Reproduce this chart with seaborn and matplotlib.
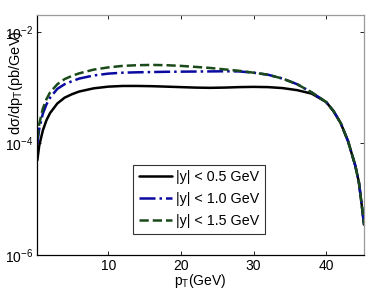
import numpy as np
import pandas as pd
import matplotlib
matplotlib.use("Agg")
import matplotlib.pyplot as plt
import seaborn as sns

pt = [0.25, 0.5, 1, 1.5, 2, 3, 4, 5, 6, 8, 10, 12, 14, 16, 18, 20, 22, 24, 26, 28,
      30, 32, 34, 36, 38, 40, 41, 42, 43, 44, 44.5, 45, 45.2]
y05 = [5e-5, 9e-5, 1.7e-4, 2.6e-4, 3.5e-4, 5.2e-4, 6.6e-4, 7.6e-4, 8.5e-4, 9.7e-4,
       1.04e-3, 1.07e-3, 1.07e-3, 1.06e-3, 1.04e-3, 1.02e-3, 1.0e-3, 0.99e-3, 1.0e-3,
       1.02e-3, 1.03e-3, 1.02e-3, 0.98e-3, 0.9e-3, 0.78e-3, 5.5e-4, 3.8e-4, 2.3e-4,
       1.1e-4, 4e-5, 2e-5, 6e-6, 3.5e-6]
y10 = [1e-4, 1.8e-4, 3.4e-4, 5e-4, 6.6e-4, 9.5e-4, 1.15e-3, 1.3e-3, 1.45e-3, 1.65e-3,
       1.78e-3, 1.85e-3, 1.88e-3, 1.9e-3, 1.92e-3, 1.93e-3, 1.94e-3, 1.95e-3, 1.96e-3,
       1.95e-3, 1.85e-3, 1.7e-3, 1.45e-3, 1.15e-3, 8.2e-4, 5.5e-4, 3.8e-4, 2.3e-4,
       1.1e-4, 4e-5, 2e-5, 6e-6, 3.5e-6]
y15 = [1.2e-4, 2.2e-4, 4.2e-4, 6.2e-4, 8.2e-4, 1.15e-3, 1.42e-3, 1.62e-3, 1.8e-3, 2.1e-3,
       2.3e-3, 2.45e-3, 2.52e-3, 2.55e-3, 2.52e-3, 2.45e-3, 2.35e-3, 2.25e-3, 2.12e-3,
       2.0e-3, 1.85e-3, 1.7e-3, 1.45e-3, 1.15e-3, 8.2e-4, 5.5e-4, 3.8e-4, 2.3e-4,
       1.1e-4, 4e-5, 2e-5, 6e-6, 3.5e-6]
labels = ["|y| < 0.5 GeV", "|y| < 1.0 GeV", "|y| < 1.5 GeV"]
xticks = [10, 20, 30, 40]

sns.set_style("ticks", {"text.color": "black", "axes.labelcolor": "black",
                        "xtick.color": "black", "ytick.color": "black",
                        "axes.edgecolor": "black"})
plt.rcParams['font.family'] = ['Liberation Sans', 'DejaVu Sans']

fig = plt.figure(figsize=(3.74, 2.94), dpi=100)
ax = fig.add_axes([37/374, 1-255/294, 327/374, 240/294])

df = pd.DataFrame({"pt": pt * 3, "val": y05 + y10 + y15,
                   "series": [labels[0]] * len(pt) + [labels[1]] * len(pt) + [labels[2]] * len(pt)})
styles = [("black", "-"), ("#0a0aa0", "-."), ("#1a4a1a", "--")]
for (c, ls), lab in zip(styles, labels):
    sub = df[df.series == lab]
    sns.lineplot(data=sub, x="pt", y="val", ax=ax, color=c, linestyle=ls, lw=1.8, label=lab)

ax.set_yscale("log")
ax.set_xlim(0.2, 45.2)
ax.set_ylim(1e-6, 2e-2)
ax.set_yticks([1e-6, 1e-4, 1e-2])
ax.yaxis.set_minor_locator(matplotlib.ticker.NullLocator())
ax.set_xticks(xticks)
ax.tick_params(direction="in", top=True, right=True, labelsize=10, length=3, width=0.6, pad=3)
for s in ["top", "right"]:
    ax.spines[s].set_color("#999999")
for s in ax.spines.values():
    s.set_linewidth(0.9)
ax.set_xlabel("p$_\\mathregular{T}$(GeV)", fontsize=10, labelpad=-1)
ax.set_ylabel("dσ/dp$_\\mathregular{T}$(pb/GeV)", fontsize=10.5)
ax.yaxis.set_label_coords(-0.037, 0.72)

leg = ax.legend(loc="lower left", bbox_to_anchor=(0.294, 0.088), borderaxespad=0,
                fontsize=10.3, frameon=True, fancybox=False, edgecolor="black",
                handlelength=2.3, handletextpad=0.3, borderpad=0.4, labelspacing=0.55)
leg.get_frame().set_linewidth(0.8)

fig.savefig("out.png", dpi=100)
